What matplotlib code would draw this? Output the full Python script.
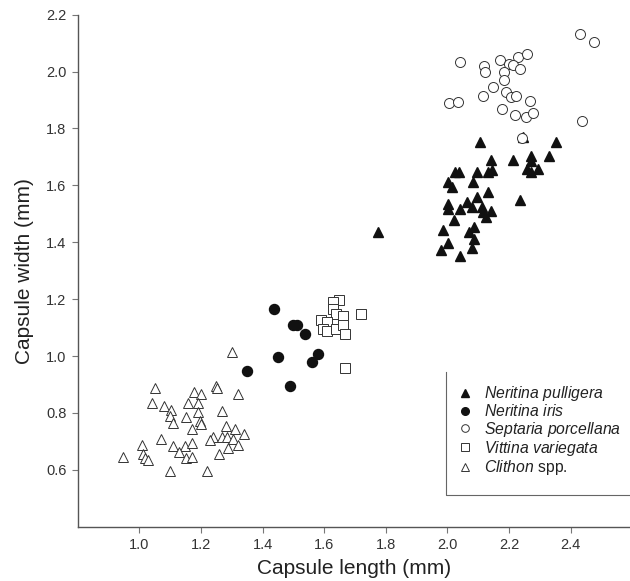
import matplotlib
matplotlib.use("Agg")
import matplotlib.pyplot as plt
from matplotlib.lines import Line2D

plt.rcParams["font.family"] = ["Liberation Sans", "DejaVu Sans"]
plt.rcParams["mathtext.fontset"] = "custom"
plt.rcParams["mathtext.it"] = "Liberation Sans:italic"
plt.rcParams["mathtext.rm"] = "Liberation Sans"

# Neritina pulligera (filled triangles)
pulligera_x = [2.106, 2.352, 2.142, 2.212, 2.272, 2.330, 2.272, 2.025, 2.039, 2.095,
               2.131, 2.144, 2.258, 2.295, 2.272, 2.003, 2.014, 2.084, 2.131, 2.236,
               2.095, 2.063, 2.003, 2.003, 2.041, 2.079, 2.112, 2.142, 2.117, 2.126,
               2.023, 2.088, 1.987, 2.071, 2.003, 2.088, 2.079, 1.980, 2.041, 1.775,
               2.247]
pulligera_y = [1.751, 1.751, 1.690, 1.690, 1.704, 1.704, 1.687, 1.646, 1.646, 1.646,
               1.646, 1.654, 1.658, 1.658, 1.646, 1.611, 1.596, 1.611, 1.576, 1.550,
               1.560, 1.543, 1.535, 1.517, 1.517, 1.525, 1.523, 1.511, 1.505, 1.490,
               1.480, 1.455, 1.443, 1.435, 1.397, 1.412, 1.379, 1.374, 1.353, 1.437,
               1.771]

# Neritina iris (filled circles)
iris_x = [1.438, 1.500, 1.513, 1.539, 1.449, 1.579, 1.560, 1.350, 1.489]
iris_y = [1.166, 1.108, 1.108, 1.076, 0.996, 1.007, 0.978, 0.949, 0.896]

# Septaria porcellana (open circles)
septaria_x = [2.431, 2.477, 2.042, 2.120, 2.123, 2.171, 2.231, 2.260, 2.201, 2.214,
              2.236, 2.185, 2.185, 2.149, 2.190, 2.116, 2.206, 2.222, 2.268, 2.005,
              2.036, 2.179, 2.220, 2.255, 2.277, 2.436, 2.243]
septaria_y = [2.133, 2.105, 2.032, 2.018, 2.000, 2.041, 2.053, 2.063, 2.028, 2.023,
              2.010, 2.000, 1.970, 1.946, 1.929, 1.914, 1.909, 1.914, 1.895, 1.888,
              1.894, 1.870, 1.848, 1.842, 1.853, 1.825, 1.766]

# Vittina variegata (open squares)
vittina_x = [1.649, 1.630, 1.630, 1.720, 1.590, 1.639, 1.662, 1.608, 1.597, 1.608,
             1.639, 1.662, 1.669, 1.669]
vittina_y = [1.198, 1.189, 1.166, 1.148, 1.128, 1.149, 1.139, 1.119, 1.096, 1.088,
             1.096, 1.108, 1.079, 0.959]

# Clithon spp. (open triangles)
clithon_x = [1.300, 1.051, 1.249, 1.251, 1.319, 1.179, 1.200, 1.040, 1.080, 1.103,
             1.159, 1.190, 1.190, 1.270, 1.100, 1.151, 1.111, 1.197, 1.200, 1.170,
             1.281, 1.311, 1.341, 1.240, 1.268, 1.284, 1.305, 1.070, 1.230, 1.008,
             1.111, 1.148, 1.172, 1.321, 1.289, 1.130, 1.013, 1.260, 0.948, 1.019,
             1.029, 1.151, 1.172, 1.100, 1.219]
clithon_y = [1.014, 0.886, 0.894, 0.886, 0.866, 0.874, 0.866, 0.835, 0.824, 0.812,
             0.835, 0.835, 0.804, 0.806, 0.789, 0.784, 0.763, 0.772, 0.760, 0.743,
             0.753, 0.743, 0.725, 0.716, 0.714, 0.716, 0.710, 0.707, 0.704, 0.687,
             0.683, 0.683, 0.693, 0.687, 0.675, 0.663, 0.655, 0.655, 0.646, 0.640,
             0.634, 0.640, 0.646, 0.595, 0.595]

x_ticks = [1.0, 1.2, 1.4, 1.6, 1.8, 2.0, 2.2, 2.4]
y_ticks = [0.6, 0.8, 1.0, 1.2, 1.4, 1.6, 1.8, 2.0, 2.2]

edge = "#333333"
ms = 7.2

fig = plt.figure(figsize=(6.3, 5.81), dpi=100)
ax = fig.add_axes([77.7 / 630, (581 - 526.7) / 581, (630 - 77.7) / 630, 512 / 581])

ax.plot(clithon_x, clithon_y, "^", ms=ms, mfc="white", mec=edge, mew=0.7, ls="none")
ax.plot(vittina_x, vittina_y, "s", ms=ms, mfc="white", mec=edge, mew=0.7, ls="none")
ax.plot(iris_x, iris_y, "o", ms=ms, mfc="#111111", mec="#111111", ls="none")
ax.plot(pulligera_x, pulligera_y, "^", ms=ms, mfc="#111111", mec="#111111", ls="none")
ax.plot(septaria_x, septaria_y, "o", ms=ms, mfc="white", mec=edge, mew=0.7, ls="none")

ax.set_xlim(0.8, 2.593)
ax.set_ylim(0.4, 2.2)
ax.set_xticks(x_ticks)
ax.set_yticks(y_ticks)
ax.set_xticklabels([f"{v:.1f}" for v in x_ticks])
ax.set_yticklabels([f"{v:.1f}" for v in y_ticks])
ax.tick_params(direction="out", length=4, width=0.8, color="#777777",
               labelsize=10.5, labelcolor="#333333", pad=4)
for side in ["top", "right"]:
    ax.spines[side].set_visible(False)
for side in ["left", "bottom"]:
    ax.spines[side].set_color("#555555")
    ax.spines[side].set_linewidth(1.0)

ax.set_xlabel("Capsule length (mm)", fontsize=15, color="#222222", labelpad=5)
ax.set_ylabel("Capsule width (mm)", fontsize=15, color="#222222", labelpad=9)

# legend
handles = [
    Line2D([], [], marker="^", ls="none", ms=5.5, mfc="#111111", mec="#111111"),
    Line2D([], [], marker="o", ls="none", ms=5.5, mfc="#111111", mec="#111111"),
    Line2D([], [], marker="o", ls="none", ms=5.5, mfc="white", mec=edge, mew=0.7),
    Line2D([], [], marker="s", ls="none", ms=5.5, mfc="white", mec=edge, mew=0.7),
    Line2D([], [], marker="^", ls="none", ms=5.5, mfc="white", mec=edge, mew=0.7),
]
labels = [r"$\mathit{Neritina\ pulligera}$", r"$\mathit{Neritina\ iris}$",
          r"$\mathit{Septaria\ porcellana}$", r"$\mathit{Vittina\ variegata}$",
          r"$\mathit{Clithon}$ spp."]
ax.legend(handles, labels, loc="upper left", bbox_to_anchor=(457 / 630, 1 - 384 / 581),
          bbox_transform=fig.transFigure, frameon=False, fontsize=11.3,
          handlelength=1.0, handletextpad=0.75, labelspacing=0.02,
          borderpad=0, borderaxespad=0, labelcolor="#222222")

# legend box (left and bottom edges only)
lx0 = (445.7 - 77.7) / (630 - 77.7)
ax.plot([lx0, lx0, 1.0], [(526.7 - 371.7) / 512, (526.7 - 495) / 512, (526.7 - 495) / 512],
        transform=ax.transAxes, color="#666666", lw=0.8, clip_on=False)

fig.savefig("out.png", dpi=100)
